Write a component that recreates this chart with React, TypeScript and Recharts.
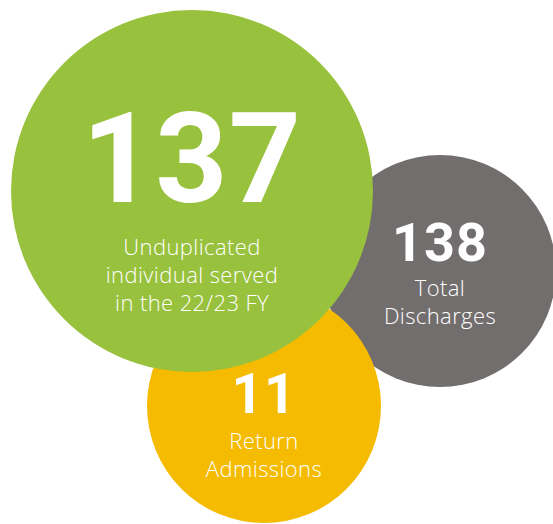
import React from "react";
import { ScatterChart, Scatter, XAxis, YAxis } from "recharts";

// bubbles are drawn in this order: gray, yellow, then green on top
const names = ["discharges", "returns", "served"];
const values = [138, 11, 137];
const captions = [
  ["Total", "Discharges"],
  ["Return", "Admissions"],
  ["Unduplicated", "individual served", "in the 22/23 FY"],
];
const bubbleX = [440, 264, 192];
const bubbleY = [271, 406, 191];
const bubbleR = [116, 117, 181];

const W = 553;
const H = 524;

const styles: Record<string, any> = {
  discharges: { fill: "#736E6E", numSize: 54, numDy: -10, capSize: 22, capDy: 25 },
  returns: { fill: "#F5BB00", numSize: 55, numDy: 7, capSize: 22, capDy: 43 },
  served: { fill: "#98C13D", numSize: 126, numDy: 11, capSize: 22, capDy: 64 },
};

const data = names.map((n, i) => ({
  name: n,
  value: values[i],
  caption: captions[i],
  x: bubbleX[i],
  y: bubbleY[i],
  r: bubbleR[i],
}));

const NUM_FONT = "Roboto, 'Open Sans', sans-serif";
const CAP_FONT = "'Open Sans', Lato, sans-serif";

const Bubble = (props: any) => {
  const { cx, cy, payload } = props;
  const s = styles[payload.name];
  // axes are 1px per unit, so radius in data units == pixels
  const r = payload.r * (W / W);
  return (
    <g>
      <circle cx={cx} cy={cy} r={r} fill={s.fill} />
      <text textAnchor="middle" fill="#fff">
        <tspan
          x={cx}
          y={cy + s.numDy}
          fontFamily={NUM_FONT}
          fontWeight={700}
          fontSize={s.numSize}
          letterSpacing={1}
        >
          {payload.value}
        </tspan>
        {payload.caption.map((line: string, i: number) => (
          <tspan
            key={i}
            x={cx}
            y={cy + s.capDy + i * 28}
            fontFamily={CAP_FONT}
            fontWeight={300}
            fontSize={s.capSize}
            letterSpacing={0.4}
          >
            {line}
          </tspan>
        ))}
      </text>
    </g>
  );
};

export default function App() {
  return (
    <div style={{ position: "fixed", left: 0, top: 0, width: W, height: H, background: "#fff" }}>
      <ScatterChart width={W} height={H} margin={{ top: 0, right: 0, bottom: 0, left: 0 }}>
        <XAxis type="number" dataKey="x" domain={[0, W]} hide />
        <YAxis type="number" dataKey="y" domain={[0, H]} reversed hide />
        <Scatter data={data} shape={<Bubble />} isAnimationActive={false} />
      </ScatterChart>
    </div>
  );
}
